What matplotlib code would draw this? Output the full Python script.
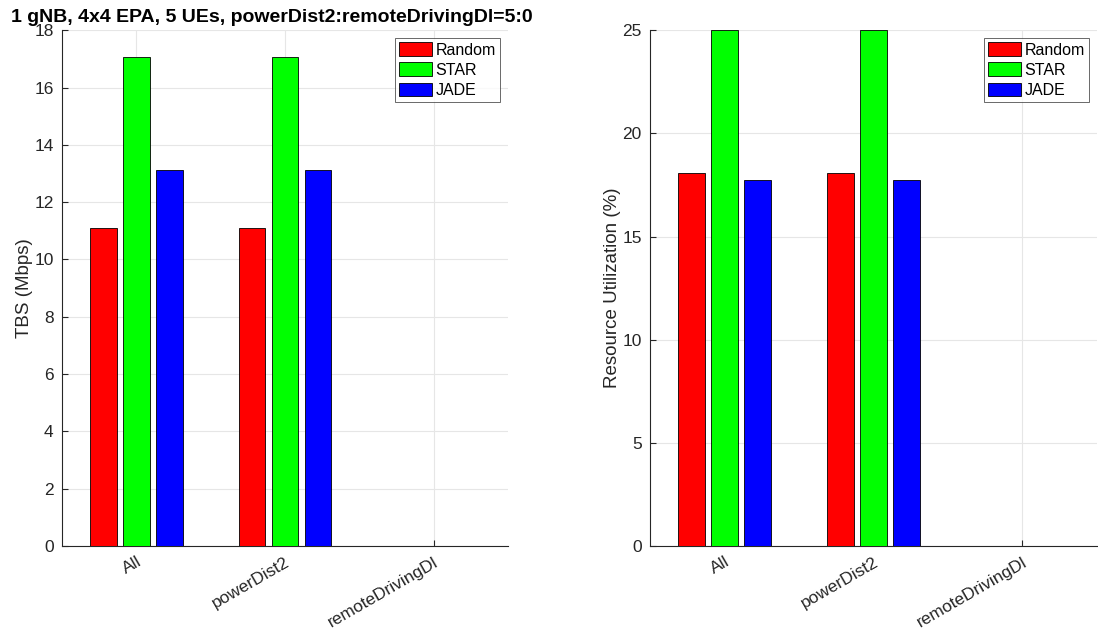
import numpy as np
import matplotlib
matplotlib.use('Agg')
import matplotlib.pyplot as plt

plt.rcParams['font.family'] = ['Liberation Sans', 'DejaVu Sans']

# groups and schedulers
groups = ['All', 'powerDist2', 'remoteDrivingDl']
schedulers = ['Random', 'STAR', 'JADE']
colors = ['#ff0000', '#00ff00', '#0000ff']

# TBS (Mbps) per scheduler, one value per group
tbs_random = [11.09, 11.09, 0.0]
tbs_star = [17.05, 17.05, 0.0]
tbs_jade = [13.11, 13.11, 0.0]

# resource utilization (%) per scheduler
ru_random = [18.07, 18.07, 0.0]
ru_star = [25.0, 25.0, 0.0]
ru_jade = [17.73, 17.73, 0.0]

title = '1 gNB, 4x4 EPA, 5 UEs, powerDist2:remoteDrivingDl=5:0'


def grouped(ax, series, ylim, yticks, ylabel):
    x = np.arange(1, len(groups) + 1)
    offs = [-0.222, 0.0, 0.222]
    for k, vals in enumerate(series):
        ax.bar(x + offs[k], vals, width=0.18, color=colors[k],
               edgecolor='black', linewidth=0.6, label=schedulers[k], zorder=3)
    ax.set_xlim(0.5, 3.5)
    ax.set_ylim(0, ylim)
    ax.set_yticks(yticks)
    ax.set_xticks(x)
    ax.set_xticklabels(groups, rotation=30, ha='right', rotation_mode='anchor',
                       fontsize=12.5, color='#262626')
    ax.tick_params(axis='y', labelsize=12.5, labelcolor='#262626', pad=6)
    ax.tick_params(axis='x', pad=6)
    ax.tick_params(direction='in', length=4, color='#262626')
    ax.grid(True, color='#e6e6e6', linewidth=0.8, zorder=0)
    ax.set_axisbelow(True)
    for s in ['top', 'right']:
        ax.spines[s].set_visible(False)
    for s in ['left', 'bottom']:
        ax.spines[s].set_color('#262626')
        ax.spines[s].set_linewidth(0.8)
    ax.set_ylabel(ylabel, fontsize=13.5, color='#262626', labelpad=1)
    leg = ax.legend(loc='upper right', fontsize=11.5, frameon=True, fancybox=False,
                    borderpad=0.25, handlelength=2.1, handleheight=0.95,
                    handletextpad=0.2, labelspacing=0.3, borderaxespad=0.5)
    leg.get_frame().set_edgecolor('#262626')
    leg.get_frame().set_linewidth(0.6)


fig = plt.figure(figsize=(10.98, 6.36), dpi=100)
ax1 = fig.add_axes([0.0565, 0.1415, 0.406, 0.811])
ax2 = fig.add_axes([0.592, 0.1415, 0.407, 0.811])

grouped(ax1, [tbs_random, tbs_star, tbs_jade], 18, np.arange(0, 19, 2), 'TBS (Mbps)')
grouped(ax2, [ru_random, ru_star, ru_jade], 25, np.arange(0, 26, 5),
        'Resource Utilization (%)')

ax1.set_title(title, fontsize=14, fontweight='bold', pad=6, x=0.47)

fig.savefig('out.png', dpi=100)
